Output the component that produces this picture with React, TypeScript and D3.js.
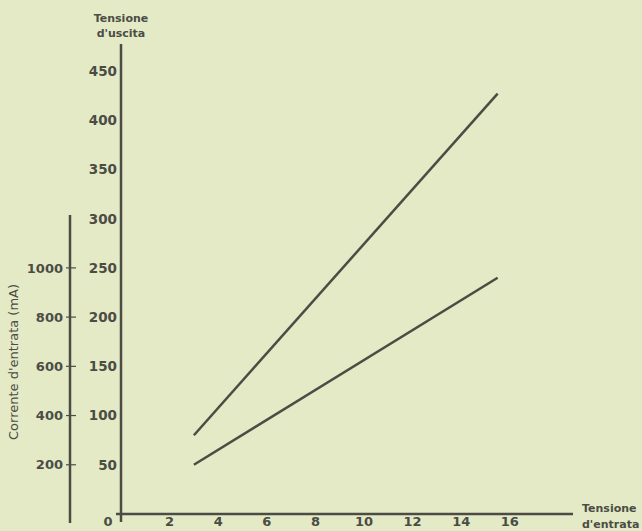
import React from "react";
import * as d3 from "d3";

const inputVoltage = [3, 15.5];
const upperOutput = [80, 427];
const lowerOutput = [50, 240];
const voltageTicks = [50, 100, 150, 200, 250, 300, 350, 400, 450];
const currentTicks = [200, 400, 600, 800, 1000];
const xTicks = [2, 4, 6, 8, 10, 12, 14, 16];

const W = 642;
const H = 531;
const INK = "#4b4d44";
const BG = "#e4e9c6";
const FONT = "'DejaVu Sans', 'Liberation Sans', sans-serif";

export default function App() {
  const x = d3.scaleLinear().domain([0, 16]).range([121, 121 + 16 * 24.3]);
  const yV = d3.scaleLinear().domain([0, 450]).range([514, 71]);
  const yI = d3.scaleLinear().domain([0, 1800]).range([514, 71]);
  const line = d3
    .line<[number, number]>()
    .x((d) => x(d[0]))
    .y((d) => yV(d[1]));
  const upper = inputVoltage.map((v, i) => [v, upperOutput[i]] as [number, number]);
  const lower = inputVoltage.map((v, i) => [v, lowerOutput[i]] as [number, number]);
  const ax = 121;
  const ix = 70;
  return (
    <svg
      width={W}
      height={H}
      style={{ position: "absolute", left: 0, top: 0, background: BG }}
      fontFamily={FONT}
    >
      <rect width={W} height={H} fill={BG} />
      <line x1={ax} x2={ax} y1={44} y2={522} stroke={INK} strokeWidth={2.5} />
      <line x1={116} x2={573} y1={yV(0)} y2={yV(0)} stroke={INK} strokeWidth={2.5} />
      <line x1={ix} x2={ix} y1={215} y2={523} stroke={INK} strokeWidth={2.5} />

      {voltageTicks.map((t) => (
        <text
          key={"v" + t}
          x={117}
          y={yV(t)}
          dy="0.36em"
          textAnchor="end"
          fontSize={13.5}
          fontWeight="bold"
          fill={INK}
        >
          {t}
        </text>
      ))}
      {currentTicks.map((t) => (
        <g key={"i" + t}>
          <line x1={ix - 4} x2={ix + 6} y1={yI(t)} y2={yI(t)} stroke={INK} strokeWidth={1.2} />
          <text
            x={63}
            y={yI(t)}
            dy="0.36em"
            textAnchor="end"
            fontSize={13}
            fontWeight="bold"
            fill={INK}
          >
            {t}
          </text>
        </g>
      ))}
      <text x={108} y={526} textAnchor="middle" fontSize={13} fontWeight="bold" fill={INK}>
        0
      </text>
      {xTicks.map((t) => (
        <text
          key={"x" + t}
          x={x(t)}
          y={526}
          textAnchor="middle"
          fontSize={13}
          fontWeight="bold"
          fill={INK}
        >
          {t}
        </text>
      ))}

      <text x={ax} y={22} textAnchor="middle" fontSize={11} fontWeight="bold" fill={INK}>
        Tensione
      </text>
      <text x={ax} y={37} textAnchor="middle" fontSize={11} fontWeight="bold" fill={INK}>
        d'uscita
      </text>
      <text x={582} y={512} fontSize={11} fontWeight="bold" fill={INK}>
        Tensione
      </text>
      <text x={582} y={528} fontSize={11} fontWeight="bold" fill={INK}>
        d'entrata
      </text>
      <text
        transform={`translate(18, 362) rotate(-90)`}
        textAnchor="middle"
        fontSize={13}
        fill={INK}
      >
        Corrente d'entrata (mA)
      </text>

      <path d={line(upper) || ""} fill="none" stroke={INK} strokeWidth={2.5} />
      <path d={line(lower) || ""} fill="none" stroke={INK} strokeWidth={2.5} />
    </svg>
  );
}
